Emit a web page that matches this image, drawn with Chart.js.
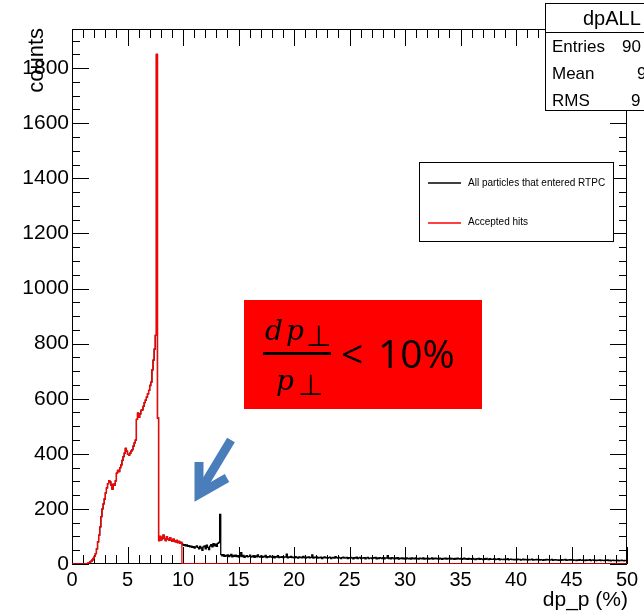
<!DOCTYPE html>
<html>
<head>
<meta charset="utf-8">
<script src="https://cdn.jsdelivr.net/npm/chart.js@4.4.1/dist/chart.umd.min.js"></script>
<style>
  html, body { margin: 0; padding: 0; background: #ffffff; }
  #wrap { width: 644px; height: 612px; position: relative; }
</style>
</head>
<body>
<div id="wrap"><canvas id="c" width="644" height="612"></canvas></div>
<script>
// ---- data (histogram, bin width 0.1 %) ----
const binWidth = 0.1;
const xTickLabels = [0, 5, 10, 15, 20, 25, 30, 35, 40, 45, 50];
const yTickLabels = [0, 200, 400, 600, 800, 1000, 1200, 1400, 1600, 1800];
const seriesNames = ["All particles that entered RTPC", "Accepted hits"];

// Accepted hits, bins 0.0 .. 9.9 %
const acceptedHits = [
  0, 0, 0, 0, 0, 0, 0, 0, 0, 0,
  0, 0, 0, 0, 1, 3, 5, 8, 10, 15,
  20, 28, 38, 55, 80, 105, 135, 172, 200, 218,
  236, 258, 276, 292, 303, 298, 286, 272, 290, 286,
  302, 330, 340, 335, 350, 360, 376, 390, 402, 420,
  410, 398, 395, 402, 410, 415, 428, 440, 450, 525,
  548, 532, 545, 558, 560, 572, 586, 595, 606, 618,
  630, 648, 660, 705, 740, 780, 830, 1850, 530, 85,
  100, 88, 95, 105, 92, 85, 98, 90, 86, 95,
  88, 82, 90, 84, 80, 86, 78, 82, 76, 78
];

// All particles that entered RTPC, bins 10.0 .. 49.9 % (below 10 % identical to accepted hits)
const allEnteredAbove10 = [
  72, 68, 70, 66, 69, 64, 67, 62, 65, 60,
  63, 58, 62, 66, 60, 55, 64, 58, 50, 62,
  66, 55, 68, 60, 52, 65, 70, 62, 74, 66,
  72, 64, 75, 78, 180, 34, 30, 34, 28, 31,
  29, 33, 27, 30, 35, 26, 31, 28, 32, 27,
  30, 25, 29, 41, 27, 31, 24, 28, 30, 26,
  28, 32, 25, 27, 30, 24, 29, 26, 33, 27,
  25, 29, 24, 28, 26, 31, 23, 27, 25, 29,
  26, 24, 28, 22, 27, 25, 30, 23, 26, 24,
  27, 23, 26, 25, 36, 22, 26, 24, 28, 23,
  25, 22, 27, 24, 21, 26, 23, 25, 22, 28,
  24, 21, 25, 23, 26, 22, 24, 33, 21, 25,
  23, 26, 21, 24, 22, 25, 20, 23, 26, 22,
  24, 21, 23, 25, 20, 22, 24, 21, 27, 23,
  21, 24, 22, 20, 23, 25, 21, 22, 24, 20,
  23, 21, 24, 22, 19, 23, 21, 25, 20, 22,
  24, 20, 22, 21, 23, 19, 22, 24, 20, 21,
  22, 20, 23, 21, 24, 19, 22, 20, 23, 21,
  20, 23, 19, 22, 21, 30, 20, 22, 19, 23,
  21, 19, 22, 20, 23, 18, 21, 20, 22, 19,
  21, 18, 22, 20, 19, 21, 18, 22, 20, 19,
  22, 19, 20, 18, 21, 20, 19, 22, 18, 20,
  19, 21, 18, 20, 19, 22, 18, 20, 21, 19,
  20, 18, 21, 19, 17, 20, 19, 21, 18, 20,
  19, 21, 18, 20, 19, 17, 20, 18, 21, 19,
  18, 20, 17, 19, 21, 18, 19, 17, 20, 18,
  19, 17, 20, 18, 16, 19, 18, 20, 17, 19,
  18, 16, 19, 17, 20, 18, 16, 19, 17, 18,
  17, 19, 16, 18, 17, 19, 15, 18, 17, 16,
  18, 16, 17, 19, 15, 17, 18, 16, 17, 15,
  17, 15, 18, 16, 17, 14, 16, 18, 15, 17,
  16, 14, 17, 15, 16, 18, 14, 16, 15, 17,
  15, 17, 14, 16, 15, 13, 16, 14, 17, 15,
  16, 14, 15, 17, 13, 15, 16, 14, 15, 13,
  15, 13, 16, 14, 15, 17, 13, 15, 14, 16,
  14, 16, 13, 15, 14, 12, 15, 13, 16, 14,
  13, 15, 14, 12, 15, 13, 14, 16, 12, 14,
  15, 13, 14, 12, 14, 13, 15, 12, 14, 13,
  12, 14, 13, 15, 12, 14, 11, 13, 14, 12,
  13, 12, 14, 11, 13, 12, 14, 12, 11, 13
];

const X_MIN = 0, X_MAX = 50, Y_MIN = 0, Y_MAX = 1942;

// build step points from bin values
function stepPoints(values, start) {
  const pts = values.map((v, i) => ({ x: +(start + i * binWidth).toFixed(3), y: v }));
  pts.push({ x: +(start + values.length * binWidth).toFixed(3), y: values[values.length - 1] });
  return pts;
}
const acceptedFull = acceptedHits.concat(new Array(allEnteredAbove10.length).fill(0));
const allFull = acceptedHits.concat(allEnteredAbove10);

const FONT = "'Liberation Sans', Arial, Helvetica, sans-serif";
const SERIF_IT = 'italic 28px "DejaVu Serif", "Liberation Serif", serif';
const PERP = '29px "DejaVu Sans", sans-serif';

const decor = {
  id: 'decor',
  beforeDatasetsDraw(chart) {
    const { ctx, chartArea: a, scales: { x, y } } = chart;
    ctx.save();
    ctx.strokeStyle = '#000';
    ctx.lineWidth = 1;
    ctx.strokeRect(Math.round(a.left) + 0.5, Math.round(a.top) + 0.5,
                   Math.round(a.right - a.left) - 1, Math.round(a.bottom - a.top) - 1);
    ctx.beginPath();
    for (let v = X_MIN; v <= X_MAX + 1e-9; v += 1) {
      const px = Math.round(x.getPixelForValue(v)) + 0.5;
      const len = (v % 5 === 0) ? 17 : 9;
      ctx.moveTo(px, a.bottom); ctx.lineTo(px, a.bottom - len);
      ctx.moveTo(px, a.top); ctx.lineTo(px, a.top + len);
    }
    for (let v = Y_MIN; v <= Y_MAX; v += 50) {
      const py = Math.round(y.getPixelForValue(v)) + 0.5;
      const len = (v % 200 === 0) ? 17 : 8;
      ctx.moveTo(a.left, py); ctx.lineTo(a.left + len, py);
      ctx.moveTo(a.right, py); ctx.lineTo(a.right - len, py);
    }
    ctx.stroke();
    ctx.restore();
  },
  afterDraw(chart) {
    const { ctx } = chart;
    ctx.save();
    // axis titles
    ctx.fillStyle = '#000';
    ctx.font = '21px ' + FONT;
    ctx.textAlign = 'right';
    ctx.textBaseline = 'alphabetic';
    ctx.fillText('dp_p (%)', 628, 606);
    ctx.save();
    ctx.translate(43, 28);
    ctx.rotate(-Math.PI / 2);
    ctx.font = '22px ' + FONT;
    ctx.textAlign = 'right';
    ctx.fillText('counts', 0, 0);
    ctx.restore();

    // stats box
    ctx.fillStyle = '#fff';
    ctx.fillRect(545, 3, 110, 107);
    ctx.strokeStyle = '#000';
    ctx.lineWidth = 1;
    ctx.strokeRect(545.5, 3.5, 110, 107);
    ctx.beginPath(); ctx.moveTo(545, 32.5); ctx.lineTo(644, 32.5); ctx.stroke();
    ctx.fillStyle = '#000';
    ctx.textAlign = 'left';
    ctx.font = '20px ' + FONT;
    ctx.fillText('dpALL', 583, 25);
    ctx.font = '17px ' + FONT;
    ctx.fillText('Entries', 552, 52);
    ctx.fillText('Mean', 552, 79);
    ctx.fillText('RMS', 552, 106);
    ctx.fillText('90', 622, 52);
    ctx.fillText('9', 637, 79);
    ctx.fillText('9', 631, 106);

    // legend
    ctx.fillStyle = '#fff';
    ctx.fillRect(419, 162, 194, 79);
    ctx.strokeStyle = '#000';
    ctx.strokeRect(419.5, 162.5, 194, 79);
    ctx.lineWidth = 1.3;
    ctx.beginPath(); ctx.moveTo(428, 183); ctx.lineTo(461, 183); ctx.stroke();
    ctx.strokeStyle = '#ff0000';
    ctx.beginPath(); ctx.moveTo(428, 223); ctx.lineTo(461, 223); ctx.stroke();
    ctx.fillStyle = '#000';
    ctx.font = '10px ' + FONT;
    ctx.textBaseline = 'middle';
    ctx.fillText(seriesNames[0], 468, 183);
    ctx.fillText(seriesNames[1], 468, 222);

    // red annotation box
    ctx.fillStyle = '#ff0000';
    ctx.fillRect(244, 300, 238, 109);
    ctx.fillStyle = '#000';
    ctx.textBaseline = 'alphabetic';
    ctx.font = SERIF_IT;
    ctx.fillText('d', 265, 340);
    ctx.fillText('p', 286, 340);
    ctx.font = PERP;
    ctx.fillText('\u22A5', 306, 346);
    ctx.fillRect(263, 352, 68, 3);
    ctx.font = SERIF_IT;
    ctx.fillText('p', 276, 390);
    ctx.font = PERP;
    ctx.fillText('\u22A5', 298, 395);
    ctx.font = '39px "Open Sans", "Noto Sans", sans-serif';
    ctx.fillText('<', 341, 368);
    ctx.fillText('10%', 378, 368);

    // blue arrow
    ctx.strokeStyle = '#4a7ebb';
    ctx.lineWidth = 9;
    ctx.lineCap = 'butt';
    ctx.lineJoin = 'miter';
    ctx.beginPath();
    ctx.moveTo(231, 440); ctx.lineTo(202, 488);
    ctx.stroke();
    ctx.beginPath();
    ctx.moveTo(199, 462); ctx.lineTo(199, 494); ctx.lineTo(227, 478);
    ctx.stroke();
    ctx.restore();
  }
};

new Chart(document.getElementById('c'), {
  type: 'line',
  data: {
    datasets: [
      { label: seriesNames[1], data: stepPoints(acceptedFull, 0), borderColor: '#ff0000',
        borderWidth: 1.3, stepped: 'after', pointRadius: 0, fill: false, tension: 0 },
      { label: seriesNames[0], data: stepPoints(allFull, 0), borderColor: '#000000',
        borderWidth: 1.3, stepped: 'after', pointRadius: 0, fill: false, tension: 0 }
    ]
  },
  options: {
    animation: false,
    responsive: false,
    devicePixelRatio: 1,
    layout: { padding: { left: 0, right: 17, top: 29, bottom: 0 } },
    plugins: { legend: { display: false }, tooltip: { enabled: false } },
    scales: {
      x: {
        type: 'linear', min: X_MIN, max: X_MAX,
        grid: { display: false, drawTicks: false }, border: { display: false },
        ticks: { stepSize: 5, color: '#000', font: { family: FONT, size: 20 }, padding: 4,
                 maxRotation: 0, autoSkip: false, callback: v => String(v) },
        afterBuildTicks: s => { s.ticks = xTickLabels.map(v => ({ value: v })); },
        afterFit: s => { s.height = 48; }
      },
      y: {
        type: 'linear', min: Y_MIN, max: Y_MAX,
        grid: { display: false, drawTicks: false }, border: { display: false },
        ticks: { stepSize: 200, color: '#000', font: { family: FONT, size: 21 }, padding: 3,
                 autoSkip: false, callback: v => String(v) },
        afterBuildTicks: s => { s.ticks = yTickLabels.map(v => ({ value: v })); },
        afterFit: s => { s.width = 72; }
      }
    }
  },
  plugins: [decor]
});
</script>
</body>
</html>
